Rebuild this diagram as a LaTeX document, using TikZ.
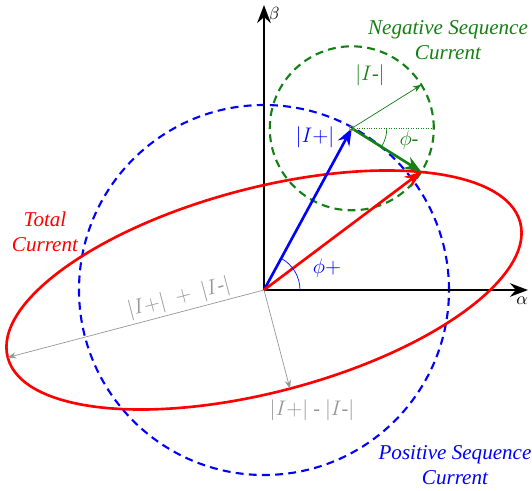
\documentclass[tikz,border=0pt]{standalone}
\usepackage{fontspec}
\setmainfont{Liberation Serif}
\usetikzlibrary{arrows.meta, calc}

\definecolor{negcol}{RGB}{20,128,20}
\definecolor{axcol}{RGB}{150,150,150}

\begin{document}
\begin{tikzpicture}[
    >=Stealth,
    axis/.style={->, line width=1.6pt},
    phasor/.style={->, line width=1.5pt},
    locus/.style={dashed, line width=1.2pt, dash pattern=on 4.5pt off 3pt},
    caption/.style={align=center, font=\large\itshape},
    mag/.style={font=\fontsize{11.5}{13}\selectfont, inner sep=1pt}
]
\useasboundingbox (-5.28,-4.0) rectangle (5.36,5.8);

% -------------------------
% Phasor points
% -------------------------
\coordinate (O) at (0,0);
\coordinate (Ip) at (61.5:3.68);
\coordinate (Itot) at ($(Ip)+(-32:1.64)$);
\coordinate (Ineg) at ($(Ip)+(32:1.64)$);
\coordinate (Iref) at ($(Ip)+(1.64,0)$);
\coordinate (Major) at (194.75:5.3);
\coordinate (Minor) at (284.75:2.04);
\coordinate (AlphaEnd) at (5.28,0);
\coordinate (BetaEnd) at (0,5.7);

% -------------------------
% Sequence circles
% -------------------------
\draw[locus, blue] (O) circle (3.7);
\draw[locus, negcol] (Ip) circle (1.64);

% -------------------------
% Axes
% -------------------------
\draw[axis] (O) -- (AlphaEnd);
\draw[axis] (O) -- (BetaEnd);
\node (alpha) at (5.16,-0.22) {$\alpha$};
\node (beta) at (0.2,5.5) {$\beta$};

% -------------------------
% Total current ellipse
% -------------------------
\draw[red, line width=1.5pt, rotate=14.75] (O) ellipse (5.3 and 2.04);

% Semi axes
\draw[->, axcol, thin] (O) -- (Major);
\draw[->, axcol, thin] (O) -- (Minor);
\node[mag, text=axcol, rotate=14.75] (sumlbl) at (-1.7,-0.16) {$|I{+}|\;+\;|I$-$|$};
\node[mag, text=axcol] (difflbl) at (0.96,-2.4) {$|I{+}|$ - $|I$-$|$};

% -------------------------
% Phasors
% -------------------------
\draw[negcol, densely dotted, thin] (Ip) -- (Iref);
\draw[->, negcol, thin] (Ip) -- (Ineg);
\draw[phasor, blue] (O) -- (Ip);
\draw[phasor, red] (O) -- (Itot);
\draw[phasor, negcol] (Ip) -- (Itot);
\draw[axcol, thin] (Ip) circle (0.05);

% Angles
\draw[blue, thin] (0.72,0) arc (0:61.5:0.72);
\draw[negcol, thin] ($(Ip)+(0.7,0)$) arc (0:-32:0.7);
\node[mag, text=blue] (phip) at (1.26,0.44) {$\phi+$};
\node[mag, text=negcol] (phin) at (2.9,3.0) {$\phi$-};
\node[mag, text=blue] (Iplbl) at (1.02,3.06) {$|I{+}|$};
\node[mag, text=negcol] (Ineglbl) at (2.12,4.3) {$|I$-$|$};

% -------------------------
% Captions
% -------------------------
\node[caption, text=negcol] (negcap) at (3.68,5.0) {Negative Sequence\\Current};
\node[caption, text=blue] (poscap) at (3.82,-3.5) {Positive Sequence\\Current};
\node[caption, text=red] (totcap) at (-4.38,1.16) {Total\\Current};

\end{tikzpicture}
\end{document}
